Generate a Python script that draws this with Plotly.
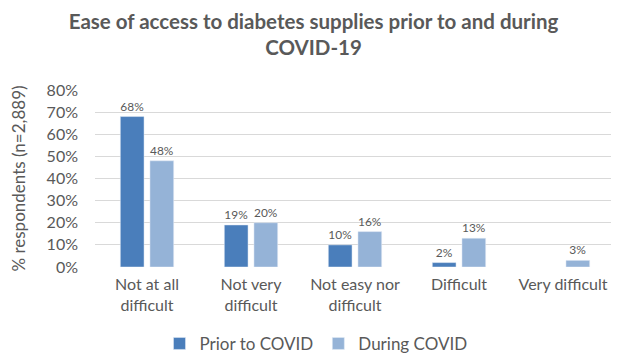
import plotly.graph_objects as go

categories = ["Not at all<br>difficult", "Not very<br>difficult", "Not easy nor<br>difficult", "Difficult", "Very difficult"]
prior = [68, 19, 10, 2, None]
during = [48, 20, 16, 13, 3]
prior_labels = ["68%", "19%", "10%", "2%", ""]
during_labels = ["48%", "20%", "16%", "13%", "3%"]
yticks = [0, 10, 20, 30, 40, 50, 60, 70, 80]

FONT = "Lato, 'Open Sans', sans-serif"
GRAY = "#595959"

fig = go.Figure()
fig.add_trace(go.Bar(x=categories, y=prior, name="Prior to COVID", marker_color="#4A7EBB",
                     text=prior_labels, textposition="outside", cliponaxis=False,
                     textfont=dict(size=12, color=GRAY, family=FONT)))
fig.add_trace(go.Bar(x=categories, y=during, name="During COVID", marker_color="#95B3D7",
                     text=during_labels, textposition="outside", cliponaxis=False,
                     textfont=dict(size=12, color=GRAY, family=FONT)))

fig.update_layout(
    width=611, height=347,
    margin=dict(l=87, r=4, t=82, b=88),
    paper_bgcolor="white", plot_bgcolor="white",
    barmode="group", bargap=0.43, bargroupgap=0.2,
    font=dict(family=FONT, color=GRAY),
    title=dict(text="<b>Ease of access to diabetes supplies prior to and during<br>COVID-19</b>",
               x=0.5, xanchor="center", y=0.94, yanchor="top",
               font=dict(size=20.5, color=GRAY, family=FONT)),
    xaxis=dict(showline=False, ticks="", ticklabelstandoff=6,
               tickfont=dict(size=16, color=GRAY, family=FONT)),
    yaxis=dict(range=[0, 80], tickvals=yticks, ticktext=[f"{v}%" for v in yticks],
               showgrid=True, gridcolor="#D9D9D9", gridwidth=1, zeroline=False,
               tickfont=dict(size=16, color=GRAY, family=FONT), ticklabelstandoff=16,
               title=dict(text="% respondents (n=2,889)", standoff=20,
                          font=dict(size=17, color=GRAY, family=FONT))),
    legend=dict(orientation="h", x=0.425, xanchor="center", yref="container",
                y=0.032, yanchor="middle",
                font=dict(size=17, color=GRAY, family=FONT), itemwidth=30,
                traceorder="normal"),
    showlegend=True,
)
fig.write_html("out.html")
